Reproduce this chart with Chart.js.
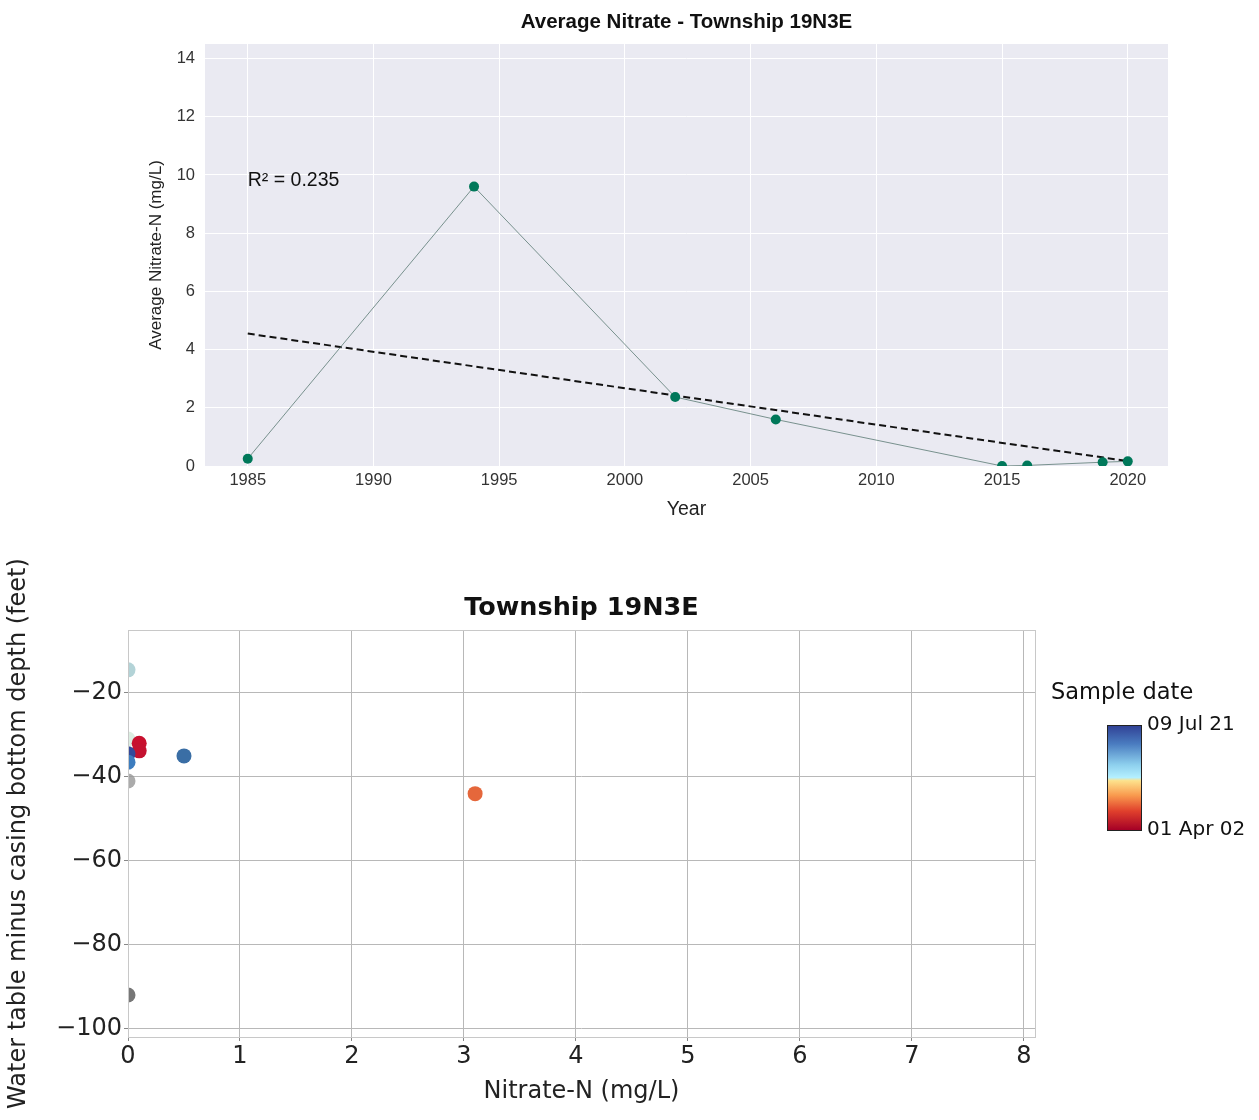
<!DOCTYPE html>
<html>
<head>
<meta charset="utf-8">
<script src="https://cdn.jsdelivr.net/npm/chart.js@4.4.1/dist/chart.umd.min.js"></script>
<style>
  body { margin: 0; background: #fff; }
  #top { position: absolute; left: 0; top: 0; width: 1259px; height: 535px; }
  #bottom { position: absolute; left: 0; top: 535px; width: 1259px; height: 585px; }
</style>
</head>
<body>
<div id="top"><canvas id="trend"></canvas></div>
<div id="bottom"><canvas id="depth"></canvas></div>
<script>
// top chart: average nitrate by year
const years = [1985, 1994, 2002, 2006, 2015, 2016, 2019, 2020];
const avgNitrate = [0.25, 9.6, 2.37, 1.6, 0.0, 0.02, 0.13, 0.16];
const trendYears = [1985, 2020];
const trendValues = [4.55, 0.17];
const yearTicks = [1985, 1990, 1995, 2000, 2005, 2010, 2015, 2020];
const nitrateTicks = [0, 2, 4, 6, 8, 10, 12, 14];
const r2Text = "R\u00b2 = 0.235";

// bottom chart: nitrate vs water table depth
const nitrateN = [0, 0, 0.1, 0.1, 0, 0, 0.5, 0, 3.1, 0];
const depthDiff = [-14.5, -31, -32, -33.8, -34.5, -36.5, -35, -41, -44, -92];
const pointColors = [
  "rgba(160,200,205,0.8)", "rgba(195,225,205,0.6)", "#c8102e", "#c41230",
  "#34489a", "#3d7dbf", "#3a6ea5", "rgba(150,150,150,0.8)", "#e5673b", "#777777"
];
const depthTicks = [-20, -40, -60, -80, -100];
const nitrateAxisTicks = [0, 1, 2, 3, 4, 5, 6, 7, 8];
const dateRange = ["01 Apr 02", "09 Jul 21"];

const sans = "'Liberation Sans', Arial, sans-serif";
const dejavu = "'DejaVu Sans', sans-serif";

const trendPlugin = {
  id: "trendDeco",
  beforeDraw(chart) {
    const { ctx, chartArea: a } = chart;
    ctx.save();
    ctx.fillStyle = "#eaeaf2";
    ctx.fillRect(a.left, a.top, a.right - a.left, a.bottom - a.top);
    ctx.restore();
  },
  afterDraw(chart) {
    const { ctx, chartArea: a, scales } = chart;
    ctx.save();
    ctx.fillStyle = "#111";
    ctx.font = "bold 20.5px " + sans;
    ctx.textAlign = "center";
    ctx.textBaseline = "middle";
    ctx.fillText("Average Nitrate - Township 19N3E", (a.left + a.right) / 2, 22);
    ctx.font = "19.5px " + sans;
    ctx.textAlign = "left";
    ctx.fillText(r2Text, scales.x.getPixelForValue(1985), scales.y.getPixelForValue(9.8));
    ctx.restore();
  }
};

new Chart(document.getElementById("trend"), {
  type: "scatter",
  data: {
    datasets: [
      {
        data: years.map((y, i) => ({ x: y, y: avgNitrate[i] })),
        showLine: true,
        borderColor: "#5a7a74",
        borderWidth: 0.8,
        backgroundColor: "#00785a",
        pointBackgroundColor: "#00785a",
        pointBorderWidth: 0,
        pointRadius: 5
      },
      {
        data: trendYears.map((y, i) => ({ x: y, y: trendValues[i] })),
        showLine: true,
        borderColor: "#111",
        borderWidth: 2,
        borderDash: [7, 4],
        pointRadius: 0
      }
    ]
  },
  options: {
    responsive: true,
    maintainAspectRatio: false,
    animation: false,
    layout: { padding: { left: 142, right: 91, top: 44, bottom: 10 } },
    plugins: { legend: { display: false }, tooltip: { enabled: false } },
    scales: {
      x: {
        type: "linear",
        min: 1983.3,
        max: 2021.6,
        afterBuildTicks: (s) => { s.ticks = yearTicks.map((v) => ({ value: v })); },
        afterFit: (s) => { s.height = 59; },
        ticks: { font: { family: sans, size: 16.5 }, color: "#333", padding: 5, callback: (v) => String(v) },
        grid: { color: "#ffffff", lineWidth: 1, drawTicks: false },
        border: { display: false },
        title: { display: true, text: "Year", font: { family: sans, size: 19.5 }, color: "#222" }
      },
      y: {
        min: 0,
        max: 14.5,
        afterBuildTicks: (s) => { s.ticks = nitrateTicks.map((v) => ({ value: v })); },
        afterFit: (s) => { s.width = 63; },
        ticks: { font: { family: sans, size: 16.5 }, color: "#333", padding: 10 },
        grid: { color: "#ffffff", lineWidth: 1, drawTicks: false },
        border: { display: false },
        title: { display: true, text: "Average Nitrate-N (mg/L)", font: { family: sans, size: 17 }, color: "#222" }
      }
    }
  },
  plugins: [trendPlugin]
});

const depthPlugin = {
  id: "depthDeco",
  afterDraw(chart) {
    const { ctx, chartArea: a } = chart;
    ctx.save();
    ctx.strokeStyle = "#c8c8c8";
    ctx.lineWidth = 1;
    ctx.strokeRect(a.left + 0.5, a.top + 0.5, a.right - a.left, a.bottom - a.top);
    ctx.fillStyle = "#111";
    ctx.font = "bold 25.5px " + dejavu;
    ctx.textAlign = "center";
    ctx.textBaseline = "middle";
    ctx.fillText("Township 19N3E", (a.left + a.right) / 2, 73);

    // colorbar legend
    const cx = a.right + 72, cw = 34, cTop = 190, cBot = 295;
    ctx.font = "22.5px " + dejavu;
    ctx.textAlign = "left";
    ctx.fillText("Sample date", a.right + 16, 158);
    const g = ctx.createLinearGradient(0, cBot, 0, cTop);
    g.addColorStop(0, "#a50026");
    g.addColorStop(0.18, "#e0402c");
    g.addColorStop(0.33, "#f99a4e");
    g.addColorStop(0.47, "#fde28c");
    g.addColorStop(0.5, "#b4f0ff");
    g.addColorStop(0.62, "#8ed0ee");
    g.addColorStop(0.82, "#4a7cc0");
    g.addColorStop(1, "#2f3f94");
    ctx.fillStyle = g;
    ctx.fillRect(cx, cTop, cw, cBot - cTop);
    ctx.strokeStyle = "#222";
    ctx.strokeRect(cx + 0.5, cTop + 0.5, cw, cBot - cTop);
    ctx.fillStyle = "#111";
    ctx.font = "20px " + dejavu;
    ctx.fillText(dateRange[1], cx + cw + 6, cTop);
    ctx.fillText(dateRange[0], cx + cw + 6, cBot);
    ctx.restore();
  }
};

new Chart(document.getElementById("depth"), {
  type: "scatter",
  data: {
    datasets: [{
      data: nitrateN.map((x, i) => ({ x: x, y: depthDiff[i] })),
      pointBackgroundColor: pointColors,
      pointBorderWidth: 0,
      pointRadius: 7.5
    }]
  },
  options: {
    responsive: true,
    maintainAspectRatio: false,
    animation: false,
    layout: { padding: { left: 0, right: 224, top: 95, bottom: 10 } },
    plugins: { legend: { display: false }, tooltip: { enabled: false } },
    scales: {
      x: {
        type: "linear",
        min: 0,
        max: 8.1,
        afterBuildTicks: (s) => { s.ticks = nitrateAxisTicks.map((v) => ({ value: v })); },
        afterFit: (s) => { s.height = 73; },
        ticks: { font: { family: dejavu, size: 24 }, color: "#222", padding: 1 },
        grid: { color: "#b8b8b8", lineWidth: 1, tickLength: 4, tickColor: "#888" },
        border: { display: false },
        title: { display: true, text: "Nitrate-N (mg/L)", font: { family: dejavu, size: 24 }, color: "#222" }
      },
      y: {
        min: -102,
        max: -5,
        afterBuildTicks: (s) => { s.ticks = depthTicks.map((v) => ({ value: v })); },
        afterFit: (s) => { s.width = 128; },
        ticks: { font: { family: dejavu, size: 24 }, color: "#222", padding: 2, callback: (v) => String(v).replace("-", "\u2212") },
        grid: { color: "#b8b8b8", lineWidth: 1, tickLength: 4, tickColor: "#888" },
        border: { display: false },
        title: { display: true, text: "Water table minus casing bottom depth (feet)", font: { family: dejavu, size: 24 }, color: "#222" }
      }
    }
  },
  plugins: [depthPlugin]
});
</script>
</body>
</html>
